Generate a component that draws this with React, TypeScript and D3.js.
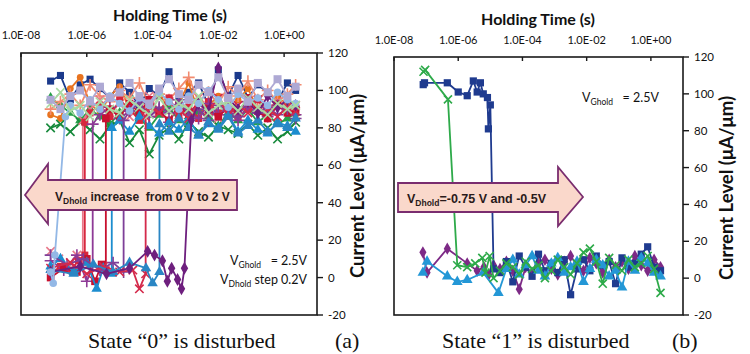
import React from "react";
import * as d3 from "d3";

// ---------- axes ----------
const xTickValues = [1e-8, 1e-6, 1e-4, 1e-2, 1];
const xTickLabels = ["1.0E-08", "1.0E-06", "1.0E-04", "1.0E-02", "1.0E+00"];
const yTickValues = [-20, 0, 20, 40, 60, 80, 100, 120];

// ---------- time grids (log10 of seconds) ----------
const leftGridExp = [-7.1, -6.8, -6.5, -6.2, -5.9, -5.6, -5.3, -5.0, -4.7, -4.4, -4.1, -3.8, -3.5, -3.2, -2.9, -2.6, -2.3, -2.0, -1.7, -1.4, -1.1, -0.8, -0.5, -0.2, 0.1, 0.35];
const rightGridExp = [-4.9, -4.7, -4.5, -4.3, -4.1, -3.9, -3.7, -3.5, -3.3, -3.1, -2.9, -2.7, -2.5, -2.3, -2.1, -1.9, -1.7, -1.5, -1.3, -1.1, -0.9, -0.7, -0.5, -0.3, -0.1, 0.1, 0.3];

// ---------- left panel (state "0" disturbed) ----------
const navyHigh = [105, 108, 95, 103, 106, 101, 96, 104, 99, 92, 101, 97, 110, 95, 99, 104, 92, 111, 97, 108, 96, 103, 99, 94, 104, 100];
const orangeHigh = [87, 85, 101, 107, 93, 88, 97, 102, 90, 86, 95, 99, 89, 93, 104, 88, 92, 97, 86, 95, 101, 90, 88, 96, 93, 87];
const greenHigh = [96, 92, 88, 84, 90, 86, 82, 88, 92, 85, 80, 87, 91, 84, 82, 89, 86, 81, 88, 84, 90, 83, 87, 82, 85, 88];
const darkGreenHigh = [80, 82, 78, 83, 79, 74, 81, 84, 72, 79, 66, 76, 80, 74, 83, 78, 75, 81, 79, 77, 82, 76, 80, 74, 78, 83];
const lavenderHigh = [95, 90, 97, 100, 94, 102, 96, 99, 104, 97, 93, 101, 106, 98, 95, 103, 99, 107, 96, 101, 94, 104, 99, 106, 97, 102];
const lightGreenHigh = [93, 99, 89, 92, 86, 94, 90, 88, 95, 91, 87, 96, 89, 93, 90, 97, 88, 92, 94, 89, 96, 91, 87, 93, 90, 92];
const salmonHigh = [90, 94, 98, 92, 103, 97, 94, 100, 96, 104, 92, 98, 95, 101, 107, 94, 99, 93, 102, 97, 105, 95, 100, 94, 98, 103];

const lightBlueLowT = [-7.1, -7.02, -6.97];
const lightBlueLowV = [3, -3, 12];
const lightBlueHigh = [86, 92, 88, 95, 90, 97, 93, 89, 96, 92, 99, 94, 90, 97, 93, 100, 95, 91, 98, 94, 96, 92, 99, 95, 93];

const pinkLowT = [-7.1, -6.85, -6.55, -6.3, -6.12];
const pinkLowV = [14, 10, 6, 12, 8];
const pinkHigh = [84, 90, 95, 88, 93, 86, 91, 97, 89, 94, 87, 92, 96, 90, 85, 93, 89, 95, 91, 88, 94, 90, 92];

const redLowT = [-7.1, -6.8, -6.5, -6.25, -6.06];
const redLowV = [2, 6, 4, 9, 12];
const redHigh = [83, 88, 92, 86, 95, 90, 84, 93, 89, 96, 87, 91, 85, 94, 88, 92, 86, 90, 95, 87, 93, 89, 91];

const purpleLowT = [-7.1, -6.7, -6.3, -6.0, -5.82];
const purpleLowV = [9, 4, 12, -2, 6];
const purpleHigh = [82, 87, 91, 85, 89, 94, 86, 90, 83, 92, 88, 85, 93, 87, 90, 84, 91, 88, 86, 92, 89, 87];

const crimsonLowT = [-7.1, -6.7, -6.3, -6.0, -5.75, -5.55, -5.42];
const crimsonLowV = [0, 5, 3, 10, -2, 7, 4];
const crimsonHigh = [85, 90, 86, 93, 88, 95, 89, 84, 92, 87, 94, 90, 86, 91, 88, 96, 89, 85, 92, 88, 90];

const blueLowT = [-7.1, -6.8, -6.4, -6.0, -5.7, -5.5, -5.24];
const blueLowV = [6, 10, 3, 8, -6, 5, 2];
const blueHigh = [80, 84, 78, 86, 81, 77, 83, 79, 85, 76, 82, 80, 87, 78, 84, 79, 77, 83, 81, 78];

const violetLowT = [-7.1, -6.6, -6.1, -5.6, -5.2, -4.88];
const violetLowV = [12, 7, 10, 4, 8, 3];
const violetHigh = [84, 89, 93, 86, 91, 88, 95, 87, 90, 84, 92, 89, 86, 94, 88, 91, 87, 90, 85];

const rubyLowT = [-7.1, -6.5, -6.0, -5.5, -5.0, -4.6, -4.4, -4.21];
const rubyLowV = [5, 8, 2, 6, 3, 4, -6, 2];
const rubyHigh = [86, 91, 88, 94, 90, 85, 93, 89, 96, 87, 92, 88, 95, 90, 86, 91, 89];

const skyLowT = [-7.1, -6.4, -5.8, -5.2, -4.7, -4.2, -4.0, -3.79];
const skyLowV = [4, 2, 7, 3, 8, 5, -3, 3];
const skyHigh = [82, 78, 85, 80, 76, 83, 79, 86, 77, 81, 84, 78, 82, 80, 85];

const plumLowT = [-7.1, -6.2, -5.4, -4.7, -4.15, -3.94, -3.7, -3.55, -3.42, -3.24, -3.12, -3.03];
const plumLowV = [3, 6, 2, 5, 14, 12, 9, -2, 5, -1, -6, 5];
const plumHigh = [84, 93, 89, 112, 96, 90, 94, 88, 97, 91, 95, 92];

// ---------- right panel (state "1" disturbed) ----------
const rNavyT = [-7.09, -7.05, -6.34, -6.0, -5.72, -5.53, -5.41, -5.31, -5.22, -5.09, -5.06, -5.0];
const rNavyV = [105, 106, 106, 101, 99, 107, 101, 106, 100, 98, 81, 94];
const rNavyGrid = [5, 3, 9, -2, 12, 6, 1, 13, 4, 8, 3, 10, -9, 5, 10, 4, 12, 7, 9, -3, 11, 6, 8, 13, 17, 6, 4];

const rGreenT = [-7.08, -7.03, -6.32, -6.03, -5.72, -5.47, -5.25, -5.15, -5.02];
const rGreenV = [112, 113, 97, 7, 6, 8, 11, 3, 12];
const rGreenGrid = [0, 4, 8, 6, 2, 9, 5, 7, 0, 4, 10, 6, 2, 8, 14, 16, 9, -3, 11, 7, 4, 10, 6, 8, 12, 5, -8];

const rPurpleT = [-7.1, -6.97, -6.34, -5.72, -5.41, -5.2, -5.05];
const rPurpleV = [14, 3, 16, 8, 4, 6, 2];
const rPurpleGrid = [7, 5, 9, 4, -6, 6, 3, 8, 10, 5, 2, 9, 12, 7, 4, 11, 8, 3, 10, 6, 9, 5, 12, 7, 4, 10, 6];

const rBlueT = [-7.1, -6.97, -6.34, -6.03, -5.72, -5.22, -4.75];
const rBlueV = [3, 9, 1, -2, -1, 3, -8];
const rBlueGrid = [5, 10, 2, 7, 12, 4, 1, 8, 11, 3, 6, 9, -2, 5, 10, 7, 1, 4, -5, 9, 4, 11, 8, 3, 1];

type Marker = "square" | "circle" | "triangle" | "diamond" | "times" | "plus";
type Pt = [number, number];

function leftSeries(lowT: number[], lowV: number[], switchExp: number, high: number[]): Pt[] {
  const pts: Pt[] = lowT.map((t, i) => [t, lowV[i]] as Pt);
  const times = [switchExp, ...leftGridExp.filter((g) => g > switchExp + 0.05)];
  const n = Math.min(times.length, high.length);
  for (let i = 0; i < n; i++) pts.push([times[i], high[i]]);
  return pts;
}

function rightSeries(ownT: number[], ownV: number[], gridFrom: number, gridV: number[]): Pt[] {
  const pts: Pt[] = ownT.map((t, i) => [t, ownV[i]] as Pt);
  const times = rightGridExp.filter((g) => g >= gridFrom - 1e-9);
  const n = Math.min(times.length, gridV.length);
  for (let i = 0; i < n; i++) pts.push([times[i], gridV[i]]);
  return pts;
}

interface Series { color: string; marker: Marker; size: number; pts: Pt[]; }

const leftSeriesList: Series[] = [
  { color: "#1B3A8C", marker: "square", size: 50, pts: leftSeries([], [], -7.1, navyHigh) },
  { color: "#E8731F", marker: "circle", size: 36, pts: leftSeries([], [], -7.1, orangeHigh) },
  { color: "#25A048", marker: "triangle", size: 44, pts: leftSeries([], [], -7.1, greenHigh) },
  { color: "#178A3C", marker: "times", size: 48, pts: leftSeries([], [], -7.1, darkGreenHigh) },
  { color: "#F28B70", marker: "plus", size: 48, pts: leftSeries([], [], -7.1, salmonHigh) },
  { color: "#E9798A", marker: "times", size: 48, pts: leftSeries(pinkLowT, pinkLowV, -6.12, pinkHigh) },
  { color: "#D7263D", marker: "square", size: 50, pts: leftSeries(redLowT, redLowV, -6.06, redHigh) },
  { color: "#8E3A96", marker: "plus", size: 48, pts: leftSeries(purpleLowT, purpleLowV, -5.82, purpleHigh) },
  { color: "#C8102E", marker: "square", size: 58, pts: leftSeries(crimsonLowT, crimsonLowV, -5.42, crimsonHigh) },
  { color: "#1C8DCF", marker: "triangle", size: 48, pts: leftSeries(blueLowT, blueLowV, -5.24, blueHigh) },
  { color: "#7E3F98", marker: "plus", size: 48, pts: leftSeries(violetLowT, violetLowV, -4.88, violetHigh) },
  { color: "#D42A4B", marker: "times", size: 48, pts: leftSeries(rubyLowT, rubyLowV, -4.21, rubyHigh) },
  { color: "#2A86C4", marker: "triangle", size: 48, pts: leftSeries(skyLowT, skyLowV, -3.79, skyHigh) },
  { color: "#6E1F7E", marker: "diamond", size: 48, pts: leftSeries(plumLowT, plumLowV, -2.82, plumHigh) },
  { color: "#93B8E6", marker: "circle", size: 44, pts: leftSeries(lightBlueLowT, lightBlueLowV, -6.65, lightBlueHigh) },
  { color: "#A9D9A3", marker: "times", size: 48, pts: leftSeries([], [], -7.1, lightGreenHigh) },
  { color: "#AEA9D4", marker: "square", size: 64, pts: leftSeries([], [], -7.1, lavenderHigh) },
];

const rightSeriesList: Series[] = [
  { color: "#7D2A86", marker: "diamond", size: 44, pts: rightSeries(rPurpleT, rPurpleV, -4.9, rPurpleGrid) },
  { color: "#1F3B8F", marker: "square", size: 52, pts: rightSeries(rNavyT, rNavyV, -4.9, rNavyGrid) },
  { color: "#2397D6", marker: "triangle", size: 50, pts: rightSeries(rBlueT, rBlueV, -4.5, rBlueGrid) },
  { color: "#2EAA4A", marker: "times", size: 44, pts: rightSeries(rGreenT, rGreenV, -4.9, rGreenGrid) },
];

const symbolTypes: Record<Marker, d3.SymbolType> = {
  square: d3.symbolSquare,
  circle: d3.symbolCircle,
  triangle: d3.symbolTriangle,
  diamond: d3.symbolDiamond,
  times: d3.symbolTimes,
  plus: d3.symbolPlus,
};

interface PanelGeom { x0: number; x1: number; y0: number; y1: number; titleY: number; tickY: number; titleX: number; yLabelX: number; }

function Panel({ g, series }: { g: PanelGeom; series: Series[] }) {
  const x = d3.scaleLog().domain([1e-8, 10]).range([g.x0, g.x1]);
  const y = d3.scaleLinear().domain([-20, 120]).range([g.y1, g.y0]);
  const line = d3.line<Pt>().x((d) => x(Math.pow(10, d[0]))).y((d) => y(d[1]));
  const tickFont = "Lato, 'Open Sans', sans-serif";
  return (
    <g>
      {series.map((s, i) => {
        const sym = d3.symbol().type(symbolTypes[s.marker]).size(s.size)() || "";
        const stroked = s.marker === "times" || s.marker === "plus";
        return (
          <g key={i}>
            <path d={line(s.pts) || ""} fill="none" stroke={s.color} strokeWidth={1.8} strokeLinejoin="round" />
            {s.pts.map((p, j) => (
              <path
                key={j}
                d={sym}
                transform={`translate(${x(Math.pow(10, p[0]))},${y(p[1])})`}
                fill={stroked ? "none" : s.color}
                stroke={stroked ? s.color : "none"}
                strokeWidth={stroked ? 1.6 : 0}
              />
            ))}
          </g>
        );
      })}
      {/* frame */}
      <rect x={g.x0} y={g.y0} width={g.x1 - g.x0} height={g.y1 - g.y0} fill="none" stroke="#1a1a1a" strokeWidth={1.6} />
      {/* top axis ticks */}
      {xTickValues.map((v, i) => (
        <g key={i}>
          <line x1={x(v)} x2={x(v)} y1={g.y0} y2={g.y0 + 4} stroke="#1a1a1a" strokeWidth={1.4} />
          <text x={x(v)} y={g.tickY} textAnchor="middle" fontSize={11} fontFamily={tickFont} fill="#111">{xTickLabels[i]}</text>
        </g>
      ))}
      <text x={g.titleX} y={g.titleY} textAnchor="middle" fontSize={16} fontWeight="bold" fontFamily={tickFont} fill="#111">Holding Time (s)</text>
      {/* right axis */}
      {yTickValues.map((v) => (
        <g key={v}>
          <line x1={g.x1} x2={g.x1 + 6} y1={y(v)} y2={y(v)} stroke="#1a1a1a" strokeWidth={1.4} />
          <text x={g.x1 + 11} y={y(v)} dy="0.35em" fontSize={11.5} fontFamily={tickFont} fill="#111">{v}</text>
        </g>
      ))}
      <text
        transform={`translate(${g.yLabelX},${(g.y0 + g.y1) / 2 + 2}) rotate(-90)`}
        textAnchor="middle"
        dy="0.35em"
        fontSize={18.5}
        fontWeight="bold"
        fontFamily={tickFont}
        fill="#111"
      >
        Current Level (μA/μm)
      </text>
    </g>
  );
}

const leftGeom: PanelGeom = { x0: 21, x1: 317, y0: 53, y1: 315, titleY: 21, tickY: 39, titleX: 170, yLabelX: 358 };
const rightGeom: PanelGeom = { x0: 394, x1: 683, y0: 57, y1: 315, titleY: 25, tickY: 44, titleX: 538, yLabelX: 727 };

export default function App() {
  const arrowFill = "#FAD8CB";
  const arrowStroke = "#7A2D6F";
  const annFont = "Lato, 'Open Sans', sans-serif";
  const boldSans = "'Liberation Sans', Arial, sans-serif";
  const serif = "'Liberation Serif', 'Times New Roman', serif";
  const leftArrow = [[25, 195], [48, 164], [48, 180], [237, 180], [237, 210], [48, 210], [48, 224]];
  const rightArrow = [[583, 197], [558, 167], [558, 183], [398, 183], [398, 212], [558, 212], [558, 226]];
  const pre = { whiteSpace: "pre" as const };
  return (
    <svg width={750} height={354} style={{ position: "absolute", left: 0, top: 0, background: "#fff" }}>
      <rect x={0} y={0} width={750} height={354} fill="#fff" />
      <Panel g={leftGeom} series={leftSeriesList} />
      <Panel g={rightGeom} series={rightSeriesList} />

      {/* arrows */}
      <polygon points={leftArrow.map((p) => p.join(",")).join(" ")} fill={arrowFill} stroke={arrowStroke} strokeWidth={1.8} strokeLinejoin="miter" />
      <text x={55} y={201} fontSize={12} fontWeight="bold" fontFamily={boldSans} fill="#2a1a1a" style={pre}>
        V<tspan fontSize={8.5} dy={3}>Dhold</tspan><tspan dy={-3}>{" increase  from 0 V to 2 V"}</tspan>
      </text>
      <polygon points={rightArrow.map((p) => p.join(",")).join(" ")} fill={arrowFill} stroke={arrowStroke} strokeWidth={1.8} strokeLinejoin="miter" />
      <text x={407} y={203} fontSize={12.5} fontWeight="bold" fontFamily={boldSans} fill="#2a1a1a" style={pre}>
        V<tspan fontSize={8.5} dy={3}>Dhold</tspan><tspan dy={-3}>{"=-0.75 V and -0.5V"}</tspan>
      </text>

      {/* annotations */}
      <text x={307} y={265} textAnchor="end" fontSize={12.5} fontFamily={annFont} fill="#111" style={pre}>
        V<tspan fontSize={8.5} dy={3}>Ghold</tspan><tspan dy={-3}>{"   = 2.5V"}</tspan>
      </text>
      <text x={307} y={284} textAnchor="end" fontSize={12.5} fontFamily={annFont} fill="#111" style={pre}>
        V<tspan fontSize={8.5} dy={3}>Dhold</tspan><tspan dy={-3}>{" step 0.2V"}</tspan>
      </text>
      <text x={582} y={102} fontSize={12.5} fontFamily={annFont} fill="#111" style={pre}>
        V<tspan fontSize={8.5} dy={3}>Ghold</tspan><tspan dy={-3}>{"   = 2.5V"}</tspan>
      </text>

      {/* captions */}
      <text x={88} y={348} fontSize={22} fontFamily={serif} fill="#111">State “0” is disturbed</text>
      <text x={335} y={348} fontSize={22} fontFamily={serif} fill="#111">(a)</text>
      <text x={442} y={348} fontSize={22} fontFamily={serif} fill="#111">State “1” is disturbed</text>
      <text x={672} y={348} fontSize={22} fontFamily={serif} fill="#111">(b)</text>
    </svg>
  );
}
